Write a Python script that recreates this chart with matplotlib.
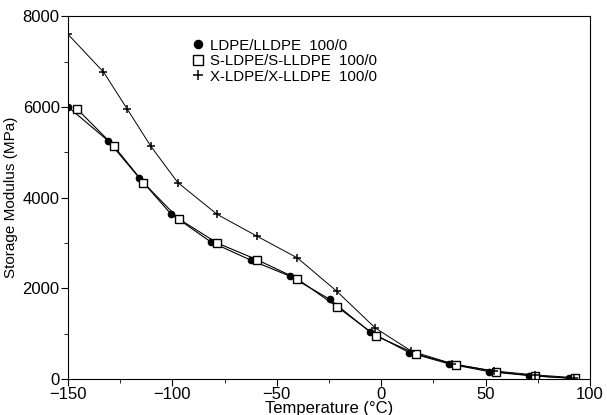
import matplotlib
matplotlib.use("Agg")
import numpy as np
from matplotlib import pyplot as plt
from matplotlib.ticker import MultipleLocator

plt.rcParams['font.family'] = ['Liberation Sans', 'DejaVu Sans']

# LDPE/LLDPE 100/0 (filled circles)
t_plain = [-150, -130.8, -116, -100.6, -81.5, -62.3, -43.6, -24.5, -5.3, 13.5, 32.6, 51.7, 70.7, 89.9]
e_plain = [6000, 5253, 4440, 3633, 3018, 2616, 2264, 1752, 1033, 578, 330, 160, 73, 15]

# S-LDPE/S-LLDPE 100/0 (open squares)
t_s = [-145.7, -128, -113.9, -97, -78.5, -59.6, -40.4, -21.1, -2.4, 16.7, 35.6, 54.8, 73.8, 92.6]
e_s = [5957, 5136, 4330, 3532, 2996, 2631, 2213, 1590, 945, 550, 314, 160, 66, 15]

# X-LDPE/X-LLDPE 100/0 (crosses)
t_x = [-150, -133, -121.6, -110.4, -97.4, -78.5, -59.3, -40.1, -21.3, -2.8, 14.4, 33.9, 53.8, 73.8, 92.1]
e_x = [7600, 6770, 5950, 5136, 4330, 3627, 3143, 2667, 1934, 1121, 615, 336, 176, 88, 29]

labels = ["LDPE/LLDPE  100/0", "S-LDPE/S-LLDPE  100/0", "X-LDPE/X-LLDPE  100/0"]

fig = plt.figure(figsize=(6.07, 4.15), dpi=100)
ax = fig.add_axes([0.112, 0.087, 0.860, 0.874])

ax.plot(t_plain, e_plain, color='black', linewidth=0.8)
ax.plot(t_s, e_s, color='black', linewidth=0.8)
ax.plot(t_x, e_x, color='black', linewidth=0.7)

h1, = ax.plot(t_plain, e_plain, 'o', color='black', markersize=4.5, linestyle='none', label=labels[0])
h2, = ax.plot(t_s, e_s, 's', markerfacecolor='white', markeredgecolor='black',
              markersize=5.5, markeredgewidth=1.0, linestyle='none', label=labels[1])
h3, = ax.plot(t_x, e_x, '+', color='black', markersize=6, markeredgewidth=1.1,
              linestyle='none', label=labels[2])

ax.set_xlim(-150, 100)
ax.set_ylim(0, 8000)
ax.xaxis.set_major_locator(MultipleLocator(50))
ax.xaxis.set_minor_locator(MultipleLocator(25))
ax.yaxis.set_major_locator(MultipleLocator(2000))
ax.yaxis.set_minor_locator(MultipleLocator(1000))
ax.tick_params(axis='both', which='major', direction='out', length=5, width=0.8, labelsize=12, pad=1)
ax.tick_params(axis='both', which='minor', direction='out', length=3, width=0.6)

for sp in ax.spines.values():
    sp.set_linewidth(0.8)

ax.set_xlabel("Temperature (°C)", fontsize=12, labelpad=-1)
ax.set_ylabel("Storage Modulus (MPa)", fontsize=11, labelpad=3)

ax.legend(handles=[h1, h2, h3], loc='upper left', bbox_to_anchor=(0.228, 0.955),
          frameon=False, fontsize=10.8, handlelength=0.7, handletextpad=0.4,
          labelspacing=0.1, borderaxespad=0, markerscale=1.3)

fig.savefig("out.png", dpi=100)
